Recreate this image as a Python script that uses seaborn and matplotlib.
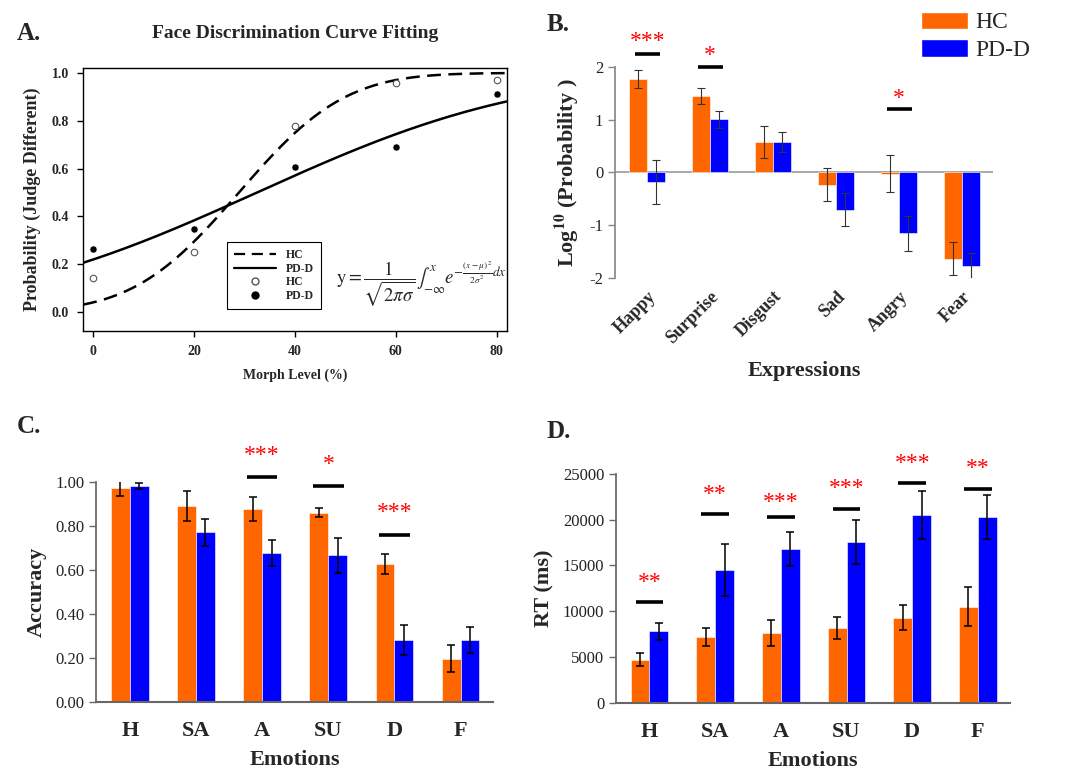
import numpy as np
import pandas as pd
import matplotlib
matplotlib.use('Agg')
import matplotlib.pyplot as plt
import seaborn as sns
from math import erf, sqrt
from matplotlib.lines import Line2D
from matplotlib.patches import Patch

# ---- Panel A: discrimination curves
morph_levels = [0, 20, 40, 60, 80]
hc_prob = [0.14, 0.25, 0.78, 0.96, 0.97]
pdd_prob = [0.265, 0.345, 0.605, 0.69, 0.91]
# fitted cumulative normal parameters (mu, sigma)
hc_fit = (28.9, 16.5)
pdd_fit = (32.5, 42.0)

groups = ['HC', 'PD-D']
colors = ['#FF6600', '#0000FF']

# ---- Panel B: log10 probability by expression
expressions = ['Happy', 'Surprise', 'Disgust', 'Sad', 'Angry', 'Fear']
b_hc = [1.76, 1.45, 0.57, -0.23, -0.02, -1.63]
b_hc_err = [0.17, 0.15, 0.30, 0.31, 0.35, 0.31]
b_pdd = [-0.18, 1.01, 0.57, -0.70, -1.15, -1.77]
b_pdd_err = [0.41, 0.16, 0.19, 0.31, 0.33, 0.25]
b_sig_idx = [0, 1, 4]
b_sig_line = [2.24, 1.99, 1.20]
b_sig_star = [2.48, 2.22, 1.40]
b_sig_txt = ['***', '*', '*']

# ---- Panel C: accuracy
emotions = ['H', 'SA', 'A', 'SU', 'D', 'F']
c_hc = [0.97, 0.89, 0.875, 0.86, 0.625, 0.195]
c_hc_err = [0.035, 0.07, 0.055, 0.02, 0.045, 0.062]
c_pdd = [0.98, 0.77, 0.675, 0.665, 0.28, 0.28]
c_pdd_err = [0.015, 0.06, 0.06, 0.08, 0.067, 0.06]
c_sig_idx = [2, 3, 4]
c_sig_line = [1.023, 0.98, 0.76]
c_sig_star = [1.12, 1.08, 0.86]
c_sig_txt = ['***', '*', '***']

# ---- Panel D: reaction time
d_hc = [4700, 7200, 7600, 8200, 9300, 10500]
d_hc_err = [700, 1000, 1450, 1200, 1400, 2100]
d_pdd = [7800, 14500, 16800, 17600, 20500, 20300]
d_pdd_err = [900, 2800, 1900, 2400, 2650, 2450]
d_sig_idx = [0, 1, 2, 3, 4, 5]
d_sig_line = [11000, 20600, 20300, 21200, 24000, 23400]
d_sig_star = [13100, 22800, 21900, 23400, 26200, 25600]
d_sig_txt = ['**', '**', '***', '***', '***', '**']

sns.set_theme(style='white')
plt.rcParams['font.family'] = ['Liberation Serif', 'DejaVu Serif']
plt.rcParams['mathtext.fontset'] = 'stix'
plt.rcParams['axes.unicode_minus'] = False

fig = plt.figure(figsize=(10.73, 7.73), dpi=100)
axA = fig.add_axes([0.0774, 0.5718, 0.395, 0.340])
axB = fig.add_axes([0.5732, 0.640, 0.3523, 0.2737])
axC = fig.add_axes([0.0895, 0.0922, 0.370, 0.2846])
axD = fig.add_axes([0.5741, 0.0909, 0.3672, 0.2959])


def cdf(x, mu, sigma):
    return np.array([0.5 * (1 + erf((v - mu) / (sigma * sqrt(2)))) for v in x])


# Panel A
xgrid = np.linspace(-2, 82, 300)
sns.lineplot(x=xgrid, y=cdf(xgrid, *hc_fit), color='black', linestyle=(0, (5.5, 3)),
             linewidth=1.8, ax=axA)
sns.lineplot(x=xgrid, y=cdf(xgrid, *pdd_fit), color='black', linewidth=1.8, ax=axA)
sns.scatterplot(x=morph_levels, y=hc_prob, facecolor='white', edgecolor='#555555',
                s=22, linewidth=0.8, ax=axA, zorder=5)
sns.scatterplot(x=morph_levels, y=pdd_prob, color='black', s=26, ax=axA, zorder=5)
axA.set_xlim(-2.05, 82.05)
axA.set_ylim(-0.08, 1.02)
axA.set_xticks([0, 20, 40, 60, 80])
axA.set_yticks([0.0, 0.2, 0.4, 0.6, 0.8, 1.0])
axA.set_yticklabels(['0.0', '0.2', '0.4', '0.6', '0.8', '1.0'])
for s in axA.spines.values():
    s.set_color('black')
    s.set_linewidth(1.0)
axA.tick_params(axis='both', direction='out', length=4, width=1, color='black',
                labelsize=10, left=True, bottom=True, pad=6)
for lab in axA.get_xticklabels() + axA.get_yticklabels():
    lab.set_fontweight('bold')
axA.set_xlabel('Morph Level (%)', fontsize=10, fontweight='bold', labelpad=8)
axA.set_ylabel('Probability (Judge Different)', fontsize=13, fontweight='bold', labelpad=8)
axA.set_title('Face Discrimination Curve Fitting', fontsize=14, fontweight='bold', pad=22)
handles = [
    Line2D([0], [0], color='black', linestyle=(0, (5, 3)), lw=1.6),
    Line2D([0], [0], color='black', lw=1.6),
    Line2D([0], [0], marker='o', color='none', markerfacecolor='white',
           markeredgecolor='#555555', markersize=5),
    Line2D([0], [0], marker='o', color='none', markerfacecolor='black',
           markeredgecolor='black', markersize=5),
]
legA = axA.legend(handles, ['HC', 'PD-D', 'HC', 'PD-D'], loc='lower left',
                  bbox_to_anchor=(0.325, 0.06), fancybox=False, edgecolor='black',
                  prop={'weight': 'bold', 'size': 8.5}, handlelength=3.6,
                  labelspacing=0.15, borderpad=0.6, framealpha=1)
legA.get_frame().set_linewidth(0.8)
axA.text(0.597, 0.18,
         r'$\mathrm{y}=\dfrac{1}{\sqrt{2\pi\sigma}}\int_{-\infty}^{x}e^{-\frac{(x-\mu)^2}{2\sigma^2}dx}$',
         transform=axA.transAxes, fontsize=13.5, ha='left', va='center')


def bar_panel(ax, cats, hc, hc_err, pdd, pdd_err, err_color, err_lw):
    df = pd.DataFrame({'cat': cats * 2,
                       'group': [groups[0]] * len(cats) + [groups[1]] * len(cats),
                       'val': hc + pdd})
    sns.barplot(data=df, x='cat', y='val', hue='group', hue_order=groups,
                palette=colors, saturation=1, width=0.57, gap=0, errorbar=None,
                legend=False, edgecolor='#ffffff', linewidth=0.4, ax=ax, zorder=2)
    for cont, vals, errs in zip(ax.containers, [hc, pdd], [hc_err, pdd_err]):
        xs = [b.get_x() + b.get_width() / 2 for b in cont]
        ax.errorbar(xs, vals, yerr=errs, fmt='none', ecolor=err_color,
                    elinewidth=err_lw, capsize=3, capthick=err_lw, zorder=3)
    ax.set_xlim(-0.51, len(cats) - 0.51)
    ax.set_xlabel('')


def sig_marks(ax, idx, line_y, star_y, txt, half=0.22):
    for i, ly, sy, t in zip(idx, line_y, star_y, txt):
        ax.plot([i - half, i + half], [ly, ly], color='black', lw=2.6,
                solid_capstyle='butt', clip_on=False, zorder=4)
        ax.text(i, sy, t, color='red', fontsize=17, ha='center', va='center',
                clip_on=False)


# Panel B
bar_panel(axB, expressions, b_hc, b_hc_err, b_pdd, b_pdd_err, '#333333', 0.8)
axB.set_ylim(-2, 2)
axB.set_yticks([-2, -1, 0, 1, 2])
axB.axhline(0, color='#999999', lw=1.2, zorder=1)
sns.despine(ax=axB, bottom=True)
axB.spines['left'].set_color('#888888')
axB.tick_params(axis='y', direction='out', length=5, width=1, color='#888888',
                labelsize=12, left=True, labelcolor='#222222')
axB.tick_params(axis='x', length=0, pad=7)
plt.setp(axB.get_xticklabels(), rotation=45, ha='right', rotation_mode='anchor',
         fontsize=13, fontweight='bold')
axB.set_xlabel('Expressions', fontsize=16, fontweight='bold', labelpad=10)
axB.set_ylabel(r'Log$^{\mathbf{10}}$ (Probability )', fontsize=16,
               fontweight='bold', labelpad=6)
sig_marks(axB, b_sig_idx, b_sig_line, b_sig_star, b_sig_txt, half=0.2)
fig.legend(handles=[Patch(facecolor=colors[0]), Patch(facecolor=colors[1])],
           labels=groups, loc='upper left', bbox_to_anchor=(0.858, 0.985),
           frameon=False, fontsize=17, handlelength=2.0, handleheight=0.75,
           handletextpad=0.3, labelspacing=0.25, borderpad=0, borderaxespad=0)

# Panel C
bar_panel(axC, emotions, c_hc, c_hc_err, c_pdd, c_pdd_err, 'black', 1.1)
axC.set_ylim(0, 1.0)
axC.set_yticks([0, 0.2, 0.4, 0.6, 0.8, 1.0])
axC.set_yticklabels(['0.00', '0.20', '0.40', '0.60', '0.80', '1.00'])
axC.set_ylabel('Accuracy', fontsize=16, fontweight='bold', labelpad=6)
sig_marks(axC, c_sig_idx, c_sig_line, c_sig_star, c_sig_txt, half=0.23)

# Panel D
bar_panel(axD, emotions, d_hc, d_hc_err, d_pdd, d_pdd_err, 'black', 1.1)
axD.set_ylim(0, 25000)
axD.set_yticks([0, 5000, 10000, 15000, 20000, 25000])
axD.set_yticklabels(['0', '5000', '10000', '15000', '20000', '25000'])
axD.set_ylabel('RT (ms)', fontsize=16, fontweight='bold', labelpad=6)
sig_marks(axD, d_sig_idx, d_sig_line, d_sig_star, d_sig_txt, half=0.21)

for ax in [axC, axD]:
    sns.despine(ax=ax)
    ax.spines['left'].set_color('#666666')
    ax.spines['bottom'].set_color('#666666')
    ax.spines['bottom'].set_linewidth(1.5)
    ax.tick_params(axis='y', direction='out', length=5, width=1, color='#666666',
                   labelsize=12, left=True, labelcolor='#222222')
    ax.tick_params(axis='x', length=0, labelsize=16, pad=14)
    for lab in ax.get_xticklabels():
        lab.set_fontweight('bold')
    ax.set_xlabel('Emotions', fontsize=16, fontweight='bold', labelpad=6)

# panel letters
fig.text(0.016, 0.957, 'A.', fontsize=18, fontweight='bold', va='center')
fig.text(0.509, 0.968, 'B.', fontsize=18, fontweight='bold', va='center')
fig.text(0.016, 0.448, 'C.', fontsize=18, fontweight='bold', va='center')
fig.text(0.509, 0.442, 'D.', fontsize=18, fontweight='bold', va='center')

fig.savefig('out.png', dpi=100)
